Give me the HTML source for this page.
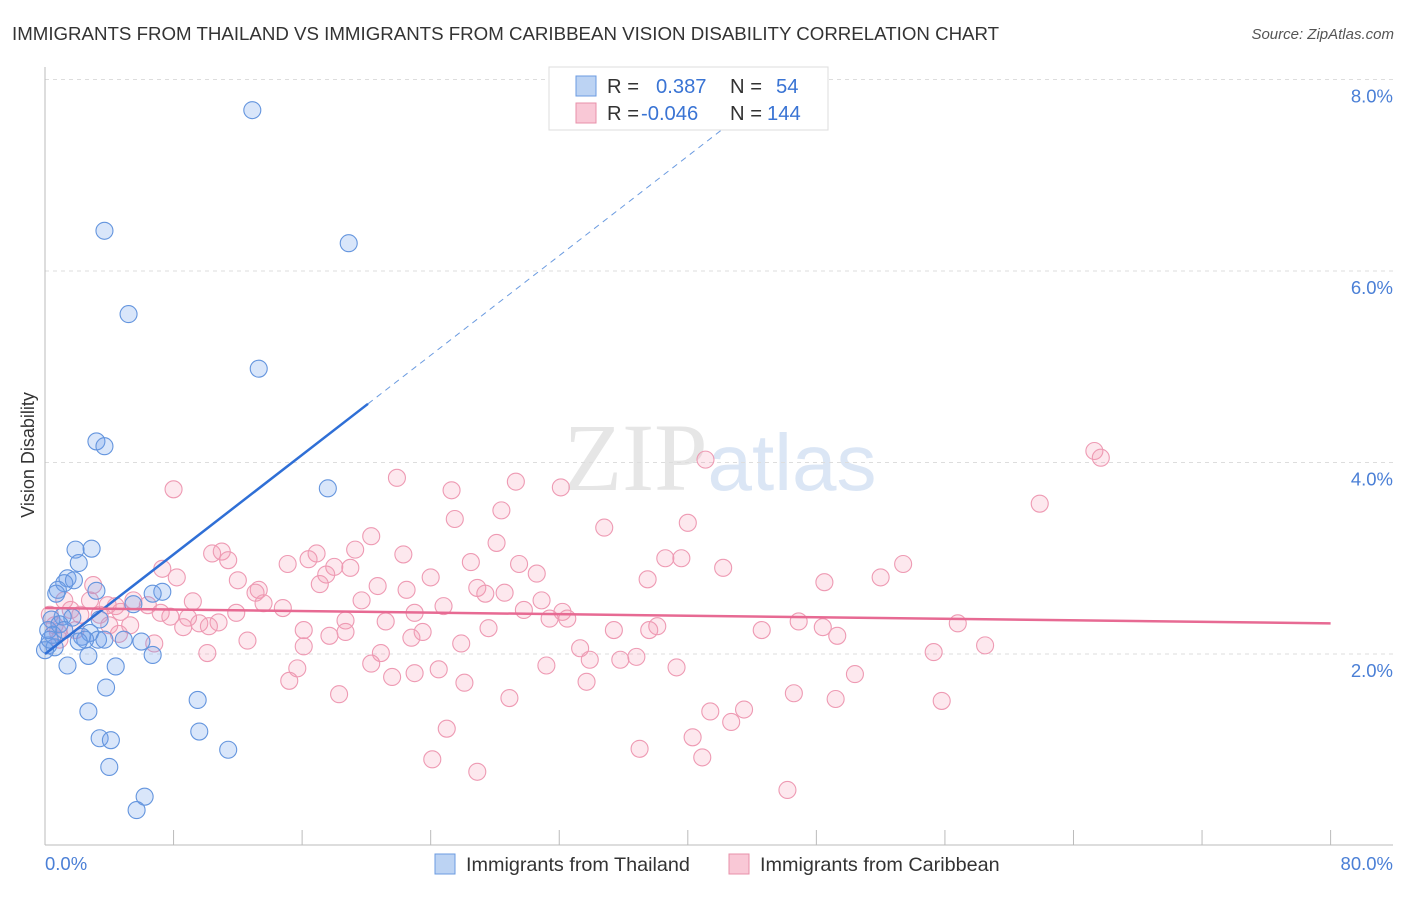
<!DOCTYPE html>
<html><head><meta charset="utf-8"><style>
body{margin:0;background:#fff;font-family:"Liberation Sans",sans-serif;}
</style></head><body>
<svg width="1406" height="892" xmlns="http://www.w3.org/2000/svg" font-family="Liberation Sans, sans-serif">
<text x="12" y="40" font-size="18.7" fill="#333">IMMIGRANTS FROM THAILAND VS IMMIGRANTS FROM CARIBBEAN VISION DISABILITY CORRELATION CHART</text>
<text x="1394" y="39" font-size="15" fill="#555" font-style="italic" text-anchor="end">Source: ZipAtlas.com</text>
<text x="720" y="490" font-size="96" fill="#e6e6e6" text-anchor="middle" font-family="Liberation Serif, serif">ZIP<tspan fill="#dbe6f5" font-family="Liberation Sans, sans-serif" font-size="80">atlas</tspan></text>
<g id="grid"></g>
<g id="axes"></g>
<g id="pts"></g>
<g id="trend"></g>
<text transform="translate(34,455) rotate(-90)" font-size="18" fill="#333" text-anchor="middle">Vision Disability</text>
<text x="45" y="870" font-size="18.5" fill="#4a7fd6">0.0%</text>
<text x="1393" y="870" font-size="18.5" fill="#4a7fd6" text-anchor="end">80.0%</text>
<g>
<rect x="549" y="67" width="279" height="63" fill="#fff" stroke="#ddd"/>
<rect x="576" y="76" width="20" height="20" fill="#bcd3f3" stroke="#6b9be0"/>
<rect x="576" y="103" width="20" height="20" fill="#f9c8d6" stroke="#e890aa"/>
<text x="607" y="93" font-size="20.2" fill="#333">R = <tspan fill="#3a74d4" x="656">0.387</tspan><tspan x="730" fill="#333">N =</tspan><tspan x="776" fill="#3a74d4">54</tspan></text>
<text x="607" y="120" font-size="20.2" fill="#333">R = <tspan fill="#3a74d4" x="641">-0.046</tspan><tspan x="730" fill="#333">N =</tspan><tspan x="767" fill="#3a74d4">144</tspan></text>
</g>
<g>
<rect x="435" y="854" width="20" height="20" fill="#bcd3f3" stroke="#6b9be0"/>
<text x="466" y="871" font-size="19.8" fill="#333">Immigrants from Thailand</text>
<rect x="729" y="854" width="20" height="20" fill="#f9c8d6" stroke="#e890aa"/>
<text x="760" y="871" font-size="19.8" fill="#333">Immigrants from Caribbean</text>
</g>
</svg>
<script>
const yTicks=[2,4,6,8];
const yTickLabels=["2.0%","4.0%","6.0%","8.0%"];
const xTicks=[0,8,16,24,32,40,48,56,64,72,80];
const blueX=[12.9,3.7,18.9,5.2,13.3,3.2,3.7,17.6,1.9,2.9,2.1,1.4,1.8,1.2,0.8,0.7,3.2,7.3,6.7,5.5,1.1,0.4,1.7,2.8,2.3,3.3,3.7,4.9,6.0,0.2,0.6,2.7,6.7,1.4,4.4,3.8,9.5,2.7,3.4,4.1,9.6,11.4,4.0,6.2,5.7,0.2,0.5,0.9,0.0,0.3,2.5,2.1,1.2,3.4];
const blueY=[7.68,6.42,6.29,5.55,4.98,4.22,4.17,3.73,3.09,3.10,2.95,2.79,2.77,2.74,2.67,2.63,2.66,2.65,2.63,2.52,2.39,2.36,2.38,2.22,2.18,2.15,2.15,2.15,2.13,2.09,2.07,1.98,1.99,1.88,1.87,1.65,1.52,1.40,1.12,1.10,1.19,1.00,0.82,0.51,0.37,2.25,2.20,2.31,2.04,2.15,2.15,2.13,2.25,2.36];
const pinkX=[65.3,65.7,41.1,21.9,8.0,29.3,32.1,25.3,61.9,28.4,25.5,40.0,34.8,20.3,28.1,19.3,10.4,11.0,16.9,22.3,11.4,16.4,26.5,38.6,39.6,15.1,29.5,7.3,18.0,19.0,42.2,53.4,8.2,17.5,30.6,37.5,52.0,48.5,3.0,12.0,24.0,13.3,20.7,22.5,26.9,17.1,27.4,28.6,5.5,9.2,13.1,19.7,30.9,6.4,13.6,14.8,3.9,4.4,11.9,24.8,29.8,23.0,32.2,7.2,8.9,31.4,32.5,7.8,18.7,21.2,9.6,10.8,8.6,16.1,27.6,38.1,44.6,46.9,48.4,56.8,17.7,18.7,10.2,23.5,35.4,37.6,4.6,49.3,6.8,12.6,22.8,25.9,16.1,33.3,10.1,20.9,33.9,35.8,36.8,55.3,58.5,31.2,39.3,15.7,20.3,24.5,15.2,21.6,23.0,33.7,50.4,26.1,18.3,28.9,46.6,49.2,55.8,41.4,43.5,42.7,25.0,40.3,37.0,24.1,26.9,40.9,46.2,1.2,1.6,2.2,0.6,2.8,3.4,4.7,5.3,0.9,1.9,4.0,0.3,0.8];
const pinkY=[4.12,4.05,4.03,3.84,3.72,3.80,3.74,3.71,3.57,3.50,3.41,3.37,3.32,3.23,3.16,3.09,3.05,3.07,3.05,3.04,2.98,2.99,2.96,3.00,3.00,2.94,2.94,2.89,2.91,2.90,2.90,2.94,2.80,2.83,2.84,2.78,2.80,2.75,2.72,2.77,2.80,2.67,2.71,2.67,2.69,2.73,2.63,2.64,2.56,2.55,2.64,2.56,2.56,2.51,2.53,2.48,2.51,2.50,2.43,2.50,2.46,2.43,2.44,2.43,2.38,2.37,2.37,2.39,2.35,2.34,2.32,2.33,2.28,2.25,2.27,2.29,2.25,2.34,2.28,2.32,2.19,2.23,2.29,2.23,2.25,2.25,2.21,2.19,2.11,2.14,2.17,2.11,2.08,2.06,2.01,2.01,1.94,1.94,1.97,2.02,2.09,1.88,1.86,1.85,1.90,1.84,1.72,1.76,1.80,1.71,1.79,1.70,1.58,1.54,1.59,1.53,1.51,1.40,1.42,1.29,1.22,1.13,1.01,0.90,0.77,0.92,0.58,2.56,2.46,2.41,2.30,2.56,2.41,2.44,2.30,2.15,2.25,2.30,2.41,2.23];
const blueTrend=[2.0,0.13];
const pinkTrend=[2.48,-0.002];
const X=v=>45+v*16.07, Y=v=>845.5-v*95.75;
const NS="http://www.w3.org/2000/svg";
function mk(tag,attrs,parent){const e=document.createElementNS(NS,tag);for(const k in attrs)e.setAttribute(k,attrs[k]);document.getElementById(parent).appendChild(e);return e;}
yTicks.forEach((t,i)=>{
 const l=mk('line',{x1:45,x2:1393,y1:Y(t),y2:Y(t),stroke:'#ddd','stroke-dasharray':'4,4'},'grid');
 
 
 const tx=mk('text',{x:1393,y:Y(t)+23,'font-size':18.5,fill:'#4a7fd6','text-anchor':'end'},'grid');
 tx.textContent=yTickLabels[i];
 
 
});
const ax=mk('line',{x1:45,x2:45,y1:67,y2:845,stroke:'#bbb'},'axes');


const bx=mk('line',{x1:45,x2:1393,y1:845,y2:845,stroke:'#bbb'},'axes');


xTicks.forEach(t=>{
 const l=mk('line',{x1:X(t),x2:X(t),y1:830,y2:845,stroke:'#bbb'},'axes');
 
 
});
pinkX.forEach((x,i)=>{
 const c=mk('circle',{cx:X(x),cy:Y(pinkY[i]),r:8.5,fill:'rgba(244,150,178,0.22)',stroke:'#ee9ab3','stroke-width':1.1},'pts');
 
 
});
blueX.forEach((x,i)=>{
 const c=mk('circle',{cx:X(x),cy:Y(blueY[i]),r:8.5,fill:'rgba(110,160,235,0.26)',stroke:'#6495de','stroke-width':1.1},'pts');
 
 
});
const bEnd=20.1, yAt=(t,x)=>t[0]+t[1]*x;
const b1=mk('line',{x1:X(0),y1:Y(yAt(blueTrend,0)),x2:X(bEnd),y2:Y(yAt(blueTrend,bEnd)),stroke:'#2f6fd6','stroke-width':2.5},'trend');


const xe=(8.1-blueTrend[0])/blueTrend[1];
const b2=mk('line',{x1:X(bEnd),y1:Y(yAt(blueTrend,bEnd)),x2:X(xe),y2:Y(8.1),stroke:'#6b9be0','stroke-width':1,'stroke-dasharray':'6,5'},'trend');


const p1=mk('line',{x1:X(0),y1:Y(yAt(pinkTrend,0)),x2:X(80),y2:Y(yAt(pinkTrend,80)),stroke:'#e76a93','stroke-width':2.5},'trend');


</script>
</body></html>
